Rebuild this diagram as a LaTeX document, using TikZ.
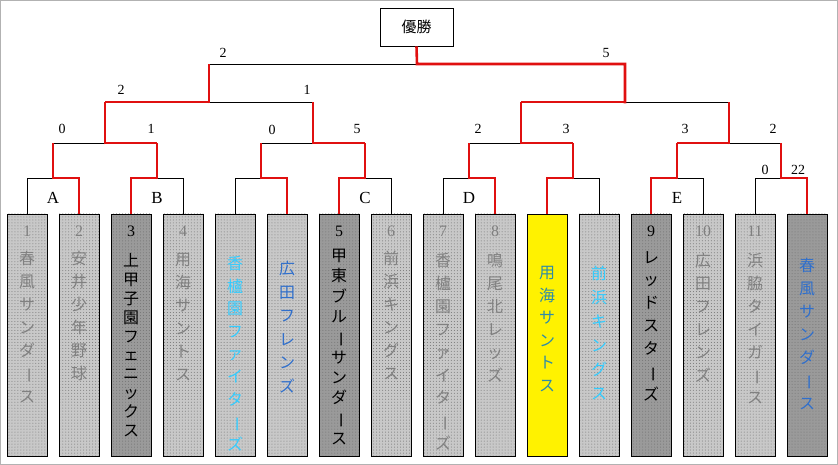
\documentclass[tikz,border=0pt]{standalone}
\usepackage{fontspec}
\setmainfont{Liberation Serif}
\newfontfamily\jp{Noto Sans CJK JP}
\usetikzlibrary{patterns}
\definecolor{lgray}{HTML}{C8C8C8}
\definecolor{dgray}{HTML}{9A9A9A}
\definecolor{tgray}{HTML}{808080}
\definecolor{lblue}{HTML}{33CCFF}
\definecolor{mblue}{HTML}{2F6FCC}
\definecolor{teal2}{HTML}{2E8BA8}
\definecolor{redl}{HTML}{E01010}
\newcommand\vb{\rotatebox[origin=c]{-90}{ー}}
\tikzset{
 tbox/.style={draw=black, line width=0.8pt, minimum width=40bp, minimum height=242bp, inner sep=0pt, preaction={fill=#1}, pattern=dots, pattern color=black!55},
 ybox/.style={draw=black, line width=0.8pt, minimum width=40bp, minimum height=242bp, inner sep=0pt, fill=yellow},
 blk/.style={draw=black, line width=0.7pt},
 rd/.style={draw=redl, line width=2.6pt, line cap=butt, line join=miter},
 vtxt/.style={align=center, anchor=north, inner sep=0pt, text=#1},
 num/.style={font=\fontsize{16}{16}\selectfont, text=#1, inner sep=0pt},
 sc/.style={font=\fontsize{14}{14}\selectfont, inner sep=0pt},
 lett/.style={font=\fontsize{17}{17}\selectfont, inner sep=0pt}
}
\begin{document}
\begin{tikzpicture}[x=1bp,y=-1bp]
\useasboundingbox (0,0) rectangle (838,465);
\draw[gray!60, line width=1pt] (0.5,0.5) rectangle (837.5,464.5);
% team boxes
\foreach \i/\f in {1/lgray,2/lgray,3/dgray,4/lgray,5/lgray,6/lgray,7/dgray,8/lgray,9/lgray,10/lgray,12/lgray,13/dgray,14/lgray,15/lgray,16/dgray}{
  \node[tbox=\f] (t\i) at ({27+52*(\i-1)},335) {};
}
\node[ybox] (t11) at (547,335) {};
% numbers
\foreach \i/\n/\c in {1/1/tgray,2/2/tgray,3/3/black,4/4/tgray,7/5/black,8/6/tgray,9/7/tgray,10/8/tgray,13/9/black,14/10/tgray,15/11/tgray}{
  \node[num=\c] (n\i) at ({27+52*(\i-1)},231) {\n};
}
% names
\newcommand\tn[5]{\node[vtxt=#4, font={\jp\fontsize{16}{#3}\selectfont}] (v#1) at ({27+52*(#1-1)},#2-9) {#5};}
\tn{1}{260}{23}{tgray}{春\\風\\サ\\ン\\ダ\\\vb\\ス}
\tn{2}{260}{23}{tgray}{安\\井\\少\\年\\野\\球}
\tn{3}{262}{19}{black}{上\\甲\\子\\園\\フ\\ェ\\ニ\\ッ\\ク\\ス}
\tn{4}{262}{23}{tgray}{用\\海\\サ\\ン\\ト\\ス}
\tn{5}{265}{22.7}{lblue}{香\\櫨\\園\\フ\\ァ\\イ\\タ\\\vb\\ズ}
\tn{6}{270}{23.6}{mblue}{広\\田\\フ\\レ\\ン\\ズ}
\tn{7}{258}{20.4}{black}{甲\\東\\ブ\\ル\\\vb\\サ\\ン\\ダ\\\vb\\ス}
\tn{8}{260}{23}{tgray}{前\\浜\\キ\\ン\\グ\\ス}
\tn{9}{262}{23}{tgray}{香\\櫨\\園\\フ\\ァ\\イ\\タ\\\vb\\ズ}
\tn{10}{262}{23}{tgray}{鳴\\尾\\北\\レ\\ッ\\ズ}
\tn{11}{275}{22.7}{teal2}{用\\海\\サ\\ン\\ト\\ス}
\tn{12}{275}{24}{lblue}{前\\浜\\キ\\ン\\グ\\ス}
\tn{13}{260}{23}{black}{レ\\ッ\\ド\\ス\\タ\\\vb\\ズ}
\tn{14}{262}{23}{tgray}{広\\田\\フ\\レ\\ン\\ズ}
\tn{15}{262}{23}{tgray}{浜\\脇\\タ\\イ\\ガ\\\vb\\ス}
\tn{16}{267}{23}{mblue}{春\\風\\サ\\ン\\ダ\\\vb\\ス}
% champion
\node[draw, line width=0.8pt, minimum width=73bp, minimum height=38bp, font=\jp\fontsize{15}{15}\selectfont] (win) at (416.5,27) {優勝};
% black brackets
\foreach \k in {0,...,7}{
  \draw[blk] ({27+104*\k},214) |- ({79+104*\k},178) -- ({79+104*\k},214);
}
\foreach \k in {0,...,3}{ \draw[blk] ({53+208*\k},178) |- ({157+208*\k},143) -- ({157+208*\k},178); }
\foreach \k in {0,1}{ \draw[blk] ({105+416*\k},143) |- ({313+416*\k},102) -- ({313+416*\k},143); }
\draw[blk] (209,102) |- (625,64) -- (625,102);
% red L1 winners
\foreach \w/\m in {79/53,131/157,287/261,339/365,495/469,547/573,651/677,807/781}{
  \draw[rd] (\w,214) |- (\m,178);
}
% red L2
\foreach \m in {53,157,261,365,469,573,677,781}{ \draw[rd] (\m,179.3) -- (\m,143); }
\foreach \a/\b in {157/105,365/313,573/521,677/729}{ \draw[rd] (\a,143) -- (\b,143); }
% red L3
\foreach \m in {105,313,521,729}{ \draw[rd] (\m,144.3) -- (\m,102); }
\draw[rd] (105,102) -- (209,102);
\draw[rd] (521,102) -- (625,102);
% red L4
\draw[rd] (209,103.3) -- (209,64);
\draw[rd] (625,103.3) -- (625,64) -- (417,64) -- (win.south);
% letters
\node[lett] (lA) at (53,198) {A};
\node[lett] (lB) at (157,198) {B};
\node[lett] (lC) at (365,198) {C};
\node[lett] (lD) at (469,198) {D};
\node[lett] (lE) at (677,198) {E};
% scores
\node[sc] (s1) at (62,129) {0};
\node[sc] (s2) at (151,129) {1};
\node[sc] (s3) at (272,130) {0};
\node[sc] (s4) at (357,129) {5};
\node[sc] (s5) at (478,129) {2};
\node[sc] (s6) at (566,129) {3};
\node[sc] (s7) at (685,129) {3};
\node[sc] (s8) at (773,129) {2};
\node[sc] (s9) at (765,170) {0};
\node[sc] (s10) at (798,170) {22};
\node[sc] (s11) at (121,90) {2};
\node[sc] (s12) at (307,90) {1};
\node[sc] (s13) at (223,53) {2};
\node[sc] (s14) at (606,53) {5};
\end{tikzpicture}
\end{document}
